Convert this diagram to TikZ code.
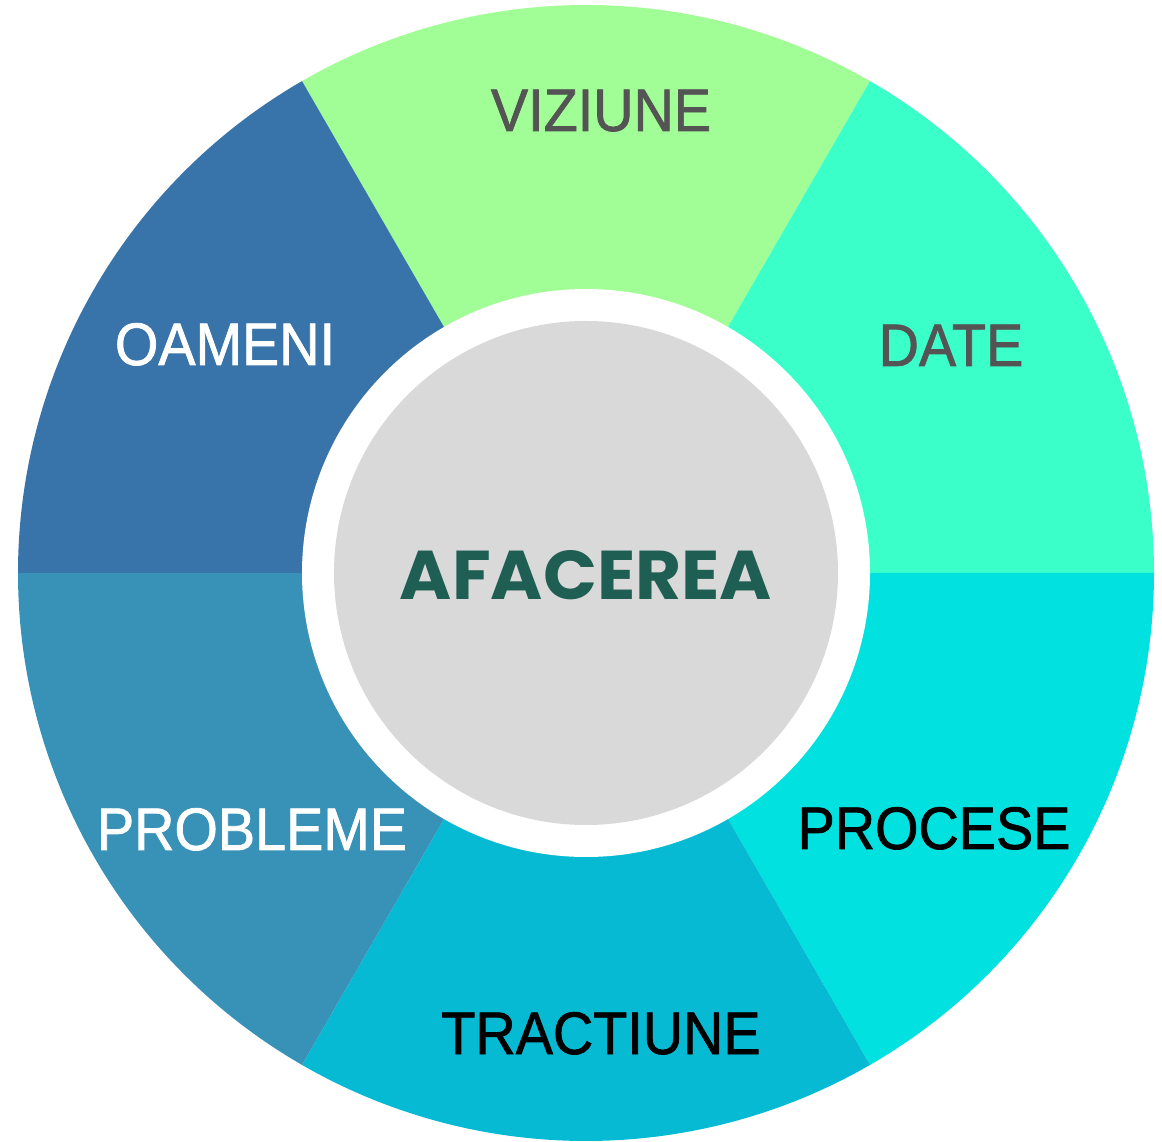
\documentclass[tikz,border=0pt]{standalone}
\usepackage{fontspec}
\setmainfont[FakeStretch=0.93,FakeBold=1.2]{Liberation Sans}
\newfontfamily\afont{Poppins}
\definecolor{cViz}{HTML}{A1FD95}
\definecolor{cDate}{HTML}{3BFFC9}
\definecolor{cProc}{HTML}{00E1E0}
\definecolor{cTrac}{HTML}{07BAD3}
\definecolor{cProb}{HTML}{3892B8}
\definecolor{cOam}{HTML}{3873A9}
\definecolor{cGray}{HTML}{D9D9D9}
\definecolor{cDark}{HTML}{545454}
\definecolor{cGreen}{HTML}{1F5E52}
\begin{document}
\begin{tikzpicture}[x=0.5pt,y=0.5pt,
  lbl/.style={anchor=base,inner sep=0pt,font=\fontsize{30}{36}\selectfont}]
\useasboundingbox (0,0) rectangle (1162,1141);
\coordinate (c) at (586,568);
\def\R{568}
\foreach \a/\b/\col in {60/120/cViz,0/60/cDate,-60/0/cProc,-120/-60/cTrac,180/240/cProb,120/180/cOam}{
  \fill[\col] (c) -- ++(\a:\R) arc[start angle=\a,end angle=\b,radius=\R] -- cycle;
}
\fill[white] (c) circle[radius=284];
\fill[cGray] (c) circle[radius=252];
\node[lbl,text=cDark] (viz) at (601,1010) {VIZIUNE};
\node[lbl,text=cDark] (date) at (951,775) {DATE};
\node[lbl,text=white] (oam) at (225,776) {OAMENI};
\node[lbl,text=white] (prob) at (252,291) {PROBLEME};
\node[lbl,text=black] (proc) at (934,292) {PROCESE};
\node[lbl,text=black] (trac) at (601,87) {TRACTIUNE};
\node[anchor=base,inner sep=0pt,text=cGreen] (afa) at (586,541) {\resizebox{186pt}{24.5pt}{\afont\bfseries AFACEREA}};
\end{tikzpicture}
\end{document}
